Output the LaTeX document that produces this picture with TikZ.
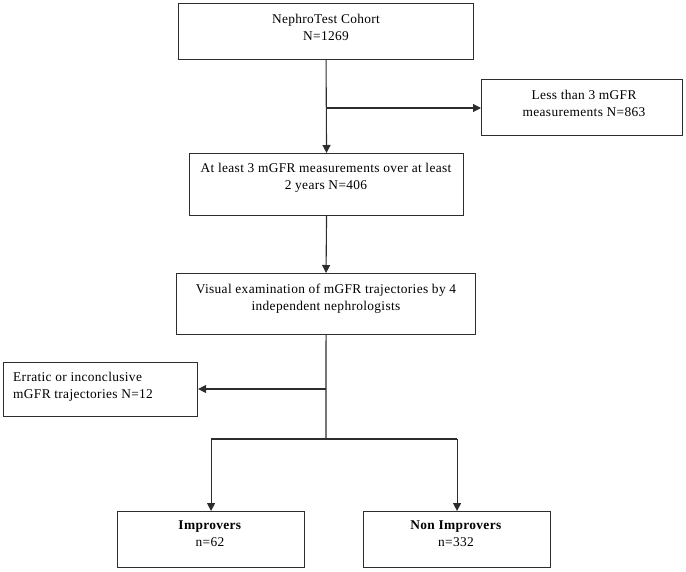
\documentclass[tikz,border=0pt]{standalone}
\usepackage{fontspec}
\setmainfont{Liberation Serif}[LetterSpace=2.5]
\usetikzlibrary{arrows.meta,calc}
\definecolor{ln}{RGB}{45,45,45}
\begin{document}
\begin{tikzpicture}[x=1pt,y=-1pt,
  box/.style={draw=ln,line width=1.1pt,rectangle,inner sep=0pt,anchor=north west},
  txt/.style={inner sep=0pt,anchor=north,align=center,font=\fontsize{13.4}{16.8}\selectfont,text=black},
  txtl/.style={inner sep=0pt,anchor=north west,align=left,font=\fontsize{13.4}{16.8}\selectfont,text=black},
  ln/.style={draw=ln,line width=1.1pt},
  arr/.style={ln,-{Triangle[width=8pt,length=8pt]}}]
\useasboundingbox (0,0) rectangle (686,571);
% boxes
\node[box,minimum width=295pt,minimum height=56pt] (b1) at (178,3) {};
\node[box,minimum width=201pt,minimum height=56pt] (br) at (481,79) {};
\node[box,minimum width=274pt,minimum height=62pt] (b3) at (189,153) {};
\node[box,minimum width=299pt,minimum height=61pt] (b4) at (176,273) {};
\node[box,minimum width=194pt,minimum height=54pt] (er) at (3,362) {};
\node[box,minimum width=187pt,minimum height=56pt] (imp) at (117,511) {};
\node[box,minimum width=187pt,minimum height=56pt] (non) at (363,511) {};
% texts
\node[txt] (t1) at (326,14) {NephroTest Cohort\\N=1269};
\node[txt] (tr) at (584,90) {Less than 3 mGFR\\measurements N=863};
\node[txt] (t3) at (326,163) {At least 3 mGFR measurements over at least\\2 years N=406};
\node[txt] (t4) at (326,284) {Visual examination of mGFR trajectories by 4\\independent nephrologists};
\node[txtl] (te) at (13,372) {Erratic or inconclusive\\mGFR trajectories N=12};
\node[txt] (ti) at (210,521) {\textbf{Improvers}\\n=62};
\node[txt] (tn) at (456,521) {\textbf{Non Improvers}\\n=332};
% junctions
\coordinate (j1) at (326,108);
\coordinate (j2) at (326,389);
\coordinate (j3) at (326,439);
% connectors
\draw[arr] (b1.south) -- (b3.north);
\draw[arr] (j1) -- (j1 -| br.west);
\draw[arr] (b3.south) -- (b4.south |- b4.north);
\draw[ln] (b4.south) -- (j3);
\draw[arr] (j2) -- (j2 -| er.east);
\draw[ln] (imp.north |- j3) -- (non.north |- j3);
\draw[arr] (imp.north |- j3) -- (imp.north);
\draw[arr] (non.north |- j3) -- (non.north);
\end{tikzpicture}
\end{document}
